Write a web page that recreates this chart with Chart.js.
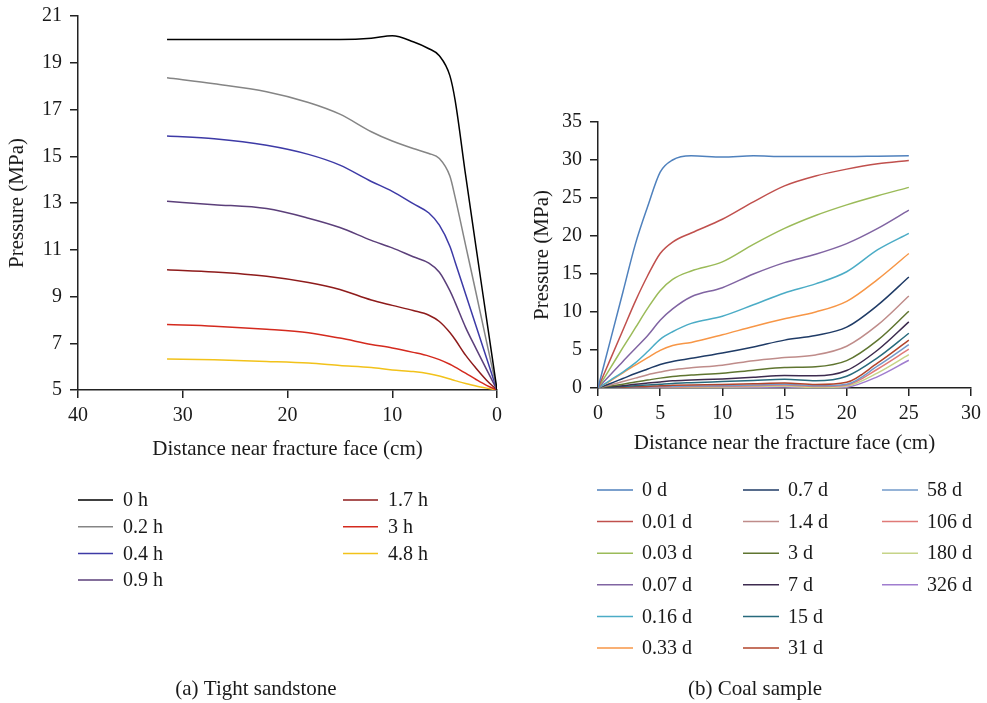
<!DOCTYPE html>
<html>
<head>
<meta charset="utf-8">
<script src="https://cdn.jsdelivr.net/npm/chart.js@4.4.1/dist/chart.umd.min.js"></script>
<style>
  html, body { margin: 0; padding: 0; background: #fff; }
  body { width: 987px; height: 703px; position: relative; overflow: hidden; }
  #c1 { position: absolute; left: 0; top: 0; }
  #c2 { position: absolute; left: 530px; top: 0; }
</style>
</head>
<body>
<canvas id="c1" width="530" height="703"></canvas>
<canvas id="c2" width="457" height="703"></canvas>
<script>
// ---------- Data: (a) Tight sandstone ----------
const sandX = [31.5, 27, 22, 18, 15, 12, 10, 8, 6.5, 5.5, 4.5, 4, 3, 2, 1, 0];
const sandLabels = ['0 h', '0.2 h', '0.4 h', '0.9 h', '1.7 h', '3 h', '4.8 h'];
const sand0h  = [20, 20, 20, 20, 20, 20.05, 20.15, 19.9, 19.6, 19.3, 18.45, 17.4, 14.2, 11.1, 8.05, 5];
const sand02h = [18.36, 18.1, 17.76, 17.3, 16.8, 16.05, 15.65, 15.33, 15.12, 14.9, 14.15, 13.25, 11.2, 9.15, 7.07, 5];
const sand04h = [15.87, 15.75, 15.47, 15.08, 14.62, 13.92, 13.5, 12.97, 12.57, 12.05, 11.15, 10.48, 9.11, 7.74, 6.37, 5];
const sand09h = [13.07, 12.93, 12.76, 12.35, 11.95, 11.4, 11.08, 10.7, 10.43, 10.04, 9.25, 8.75, 7.68, 6.77, 5.88, 5];
const sand17h = [10.14, 10.05, 9.87, 9.6, 9.3, 8.85, 8.62, 8.4, 8.2, 7.93, 7.46, 7.16, 6.49, 5.93, 5.42, 5];
const sand3h  = [7.8, 7.73, 7.6, 7.45, 7.22, 6.95, 6.8, 6.61, 6.45, 6.3, 6.1, 5.98, 5.72, 5.45, 5.2, 5];
const sand48h = [6.33, 6.29, 6.22, 6.15, 6.05, 5.96, 5.86, 5.79, 5.7, 5.6, 5.47, 5.4, 5.28, 5.17, 5.08, 5];
const sandXTicks = [40, 30, 20, 10, 0];
const sandYTicks = [5, 7, 9, 11, 13, 15, 17, 19, 21];

// ---------- Data: (b) Coal sample ----------
const coalX = [0, 1, 2, 3, 4, 5, 6, 7.5, 10, 12.5, 15, 17.5, 20, 22.5, 25];
const coalLabels = ['0 d', '0.01 d', '0.03 d', '0.07 d', '0.16 d', '0.33 d', '0.7 d', '1.4 d', '3 d',
                    '7 d', '15 d', '31 d', '58 d', '106 d', '180 d', '326 d'];
const coal0d   = [0, 6.3, 12.6, 18.9, 23.9, 28.4, 30.0, 30.55, 30.4, 30.55, 30.45, 30.45, 30.45, 30.5, 30.55];
const coal001d = [0, 3.8, 7.6, 11.4, 14.8, 17.7, 19.2, 20.4, 22.2, 24.5, 26.6, 27.9, 28.8, 29.5, 29.95];
const coal003d = [0, 2.64, 5.3, 7.9, 10.5, 12.8, 14.3, 15.4, 16.6, 18.9, 21.0, 22.7, 24.1, 25.3, 26.4];
const coal007d = [0, 1.75, 3.5, 5.2, 6.9, 8.9, 10.4, 12.0, 13.2, 15.0, 16.5, 17.6, 19.0, 21.0, 23.4];
const coal016d = [0, 1.05, 2.1, 3.3, 4.8, 6.4, 7.4, 8.5, 9.45, 10.95, 12.5, 13.7, 15.3, 18.2, 20.35];
const coal033d = [0, 0.95, 2.0, 3.0, 4.0, 4.95, 5.6, 6.0, 7.0, 8.1, 9.1, 10.0, 11.4, 14.3, 17.7];
const coal07d  = [0, 0.6, 1.25, 1.9, 2.5, 3.1, 3.5, 3.9, 4.6, 5.4, 6.3, 6.9, 8.0, 10.9, 14.6];
const coal14d  = [0, 0.4, 0.85, 1.3, 1.75, 2.1, 2.4, 2.65, 3.0, 3.6, 4.0, 4.35, 5.5, 8.3, 12.1];
const coal3d   = [0, 0.25, 0.5, 0.8, 1.05, 1.3, 1.5, 1.7, 1.95, 2.35, 2.7, 2.8, 3.6, 6.3, 10.1];
const coal7d   = [0, 0.15, 0.3, 0.5, 0.65, 0.8, 0.95, 1.05, 1.2, 1.4, 1.65, 1.6, 2.3, 5.0, 8.7];
const coal15d  = [0, 0.1, 0.2, 0.3, 0.4, 0.5, 0.6, 0.7, 0.85, 1.0, 1.15, 0.95, 1.55, 4.0, 7.2];
const coal31d  = [0, 0.05, 0.1, 0.15, 0.2, 0.3, 0.35, 0.4, 0.45, 0.55, 0.65, 0.45, 0.75, 3.3, 6.3];
const coal58d  = [0, 0.03, 0.06, 0.1, 0.13, 0.17, 0.2, 0.25, 0.3, 0.4, 0.5, 0.3, 0.5, 2.9, 5.7];
const coal106d = [0, 0.02, 0.04, 0.06, 0.08, 0.1, 0.12, 0.15, 0.2, 0.3, 0.4, 0.2, 0.4, 2.5, 5.1];
const coal180d = [0, 0.01, 0.02, 0.03, 0.04, 0.05, 0.06, 0.08, 0.12, 0.2, 0.25, 0.05, 0.25, 2.0, 4.4];
const coal326d = [0, 0, 0, 0, 0, 0, 0, 0, 0.03, 0.08, 0.12, -0.05, 0.1, 1.5, 3.65];
const coalXTicks = [0, 5, 10, 15, 20, 25, 30];
const coalYTicks = [0, 5, 10, 15, 20, 25, 30, 35];

// ---------- Styles ----------
const sandColors = ['#000000', '#858585', '#3d3aa6', '#5b3f7a', '#8e1b1b', '#d42a1e', '#f2c21a'];
const coalColors = ['#4f81bd', '#c0504d', '#9bbb59', '#8064a2', '#4bacc6', '#f79646', '#1f3b66', '#bf8c8a',
                    '#5f7530', '#3d2b4f', '#276a7c', '#b2452b', '#729aca', '#e07a77', '#c6d488', '#a07dcf'];
const FONT = '"Liberation Serif", "Times New Roman", serif';
const TICK_SIZE = 20, TITLE_SIZE = 21, LEGEND_SIZE = 20, CAPTION_SIZE = 21;

function toXY(xs, ys) { return xs.map((x, i) => ({ x: x, y: ys[i] })); }

const gridLegend = {
  id: 'gridLegend',
  afterDraw(chart, args, o) {
    const ctx = chart.ctx;
    ctx.save();
    ctx.textBaseline = 'middle';
    ctx.textAlign = 'left';
    ctx.font = o.font;
    chart.data.datasets.forEach((d, i) => {
      const col = Math.floor(i / o.rows), row = i % o.rows;
      const x = o.cols[col], y = o.top + row * o.rowGap;
      ctx.strokeStyle = d.borderColor;
      ctx.lineWidth = o.lineWidth;
      ctx.beginPath(); ctx.moveTo(x, y); ctx.lineTo(x + o.lineLen, y); ctx.stroke();
      ctx.fillStyle = '#1a1a1a';
      ctx.fillText(d.label, x + o.lineLen + o.gap, y + 1);
    });
    ctx.textAlign = 'center';
    ctx.font = o.captionFont;
    ctx.fillStyle = '#1a1a1a';
    ctx.fillText(o.caption, o.captionX, o.captionY);
    ctx.restore();
  }
};

function axisCommon(extra) {
  return Object.assign({
    type: 'linear',
    border: { display: true, color: '#222', width: 1.5 },
    grid: { display: true, drawOnChartArea: false, drawTicks: true, tickLength: 8, color: '#222', lineWidth: 1.5 },
  }, extra);
}

// ---------- Chart (a) ----------
const sandSeries = [sand0h, sand02h, sand04h, sand09h, sand17h, sand3h, sand48h];
new Chart(document.getElementById('c1'), {
  type: 'line',
  data: {
    datasets: sandSeries.map((ys, i) => ({
      label: sandLabels[i], data: toXY(sandX, ys), borderColor: sandColors[i],
      borderWidth: 1.5, pointRadius: 0, fill: false, cubicInterpolationMode: 'monotone'
    }))
  },
  options: {
    responsive: false, animation: false, devicePixelRatio: 1,
    layout: { padding: { left: 0, top: 16, right: 33, bottom: 241 } },
    plugins: {
      legend: { display: false }, tooltip: { enabled: false },
      gridLegend: { cols: [78, 343], rows: 4, top: 500, rowGap: 26.7, lineLen: 35, gap: 10, lineWidth: 1.5,
                    font: LEGEND_SIZE + 'px ' + FONT, caption: '(a) Tight sandstone', captionX: 256, captionY: 689,
                    captionFont: CAPTION_SIZE + 'px ' + FONT }
    },
    scales: {
      x: axisCommon({
        reverse: true, min: 0, max: 40,
        afterBuildTicks: s => { s.ticks = sandXTicks.map(v => ({ value: v })); },
        afterFit: s => { s.height = 72; },
        ticks: { padding: 6, color: '#1a1a1a', font: { family: FONT, size: TICK_SIZE }, maxRotation: 0 },
        title: { display: true, text: 'Distance near fracture face (cm)', color: '#1a1a1a',
                 font: { family: FONT, size: TITLE_SIZE }, padding: { top: 0, bottom: 0 } }
      }),
      y: axisCommon({
        min: 5, max: 21,
        afterBuildTicks: s => { s.ticks = sandYTicks.map(v => ({ value: v })); },
        afterFit: s => { s.width = 78; s.paddingTop = 0; },
        ticks: { padding: 8, color: '#1a1a1a', font: { family: FONT, size: TICK_SIZE, lineHeight: 1 } },
        title: { display: true, text: 'Pressure (MPa)', color: '#1a1a1a',
                 font: { family: FONT, size: TITLE_SIZE }, padding: { top: 5, bottom: 0 } }
      })
    }
  },
  plugins: [gridLegend]
});

// ---------- Chart (b) ----------
const coalSeries = [coal0d, coal001d, coal003d, coal007d, coal016d, coal033d, coal07d, coal14d, coal3d,
                    coal7d, coal15d, coal31d, coal58d, coal106d, coal180d, coal326d];
new Chart(document.getElementById('c2'), {
  type: 'line',
  data: {
    datasets: coalSeries.map((ys, i) => ({
      label: coalLabels[i], data: toXY(coalX, ys), borderColor: coalColors[i],
      borderWidth: 1.5, pointRadius: 0, fill: false, cubicInterpolationMode: 'monotone'
    }))
  },
  options: {
    responsive: false, animation: false, devicePixelRatio: 1,
    layout: { padding: { left: 0, top: 122, right: 13, bottom: 243 } },
    plugins: {
      legend: { display: false }, tooltip: { enabled: false },
      gridLegend: { cols: [67, 213, 352], rows: 6, top: 490, rowGap: 31.6, lineLen: 36, gap: 9, lineWidth: 1.5,
                    font: LEGEND_SIZE + 'px ' + FONT, caption: '(b) Coal sample', captionX: 225, captionY: 689,
                    captionFont: CAPTION_SIZE + 'px ' + FONT }
    },
    scales: {
      x: axisCommon({
        min: 0, max: 30,
        afterBuildTicks: s => { s.ticks = coalXTicks.map(v => ({ value: v })); },
        afterFit: s => { s.height = 72; },
        ticks: { padding: 6, color: '#1a1a1a', font: { family: FONT, size: TICK_SIZE }, maxRotation: 0 },
        title: { display: true, text: 'Distance near the fracture face (cm)', color: '#1a1a1a',
                 font: { family: FONT, size: TITLE_SIZE }, padding: { top: 0, bottom: 4 } }
      }),
      y: axisCommon({
        min: 0, max: 35,
        afterBuildTicks: s => { s.ticks = coalYTicks.map(v => ({ value: v })); },
        afterFit: s => { s.width = 68; },
        ticks: { padding: 8, color: '#1a1a1a', font: { family: FONT, size: TICK_SIZE } },
        title: { display: true, text: 'Pressure (MPa)', color: '#1a1a1a',
                 font: { family: FONT, size: TITLE_SIZE }, padding: { top: 0, bottom: 0 } }
      })
    }
  },
  plugins: [gridLegend]
});
</script>
</body>
</html>
